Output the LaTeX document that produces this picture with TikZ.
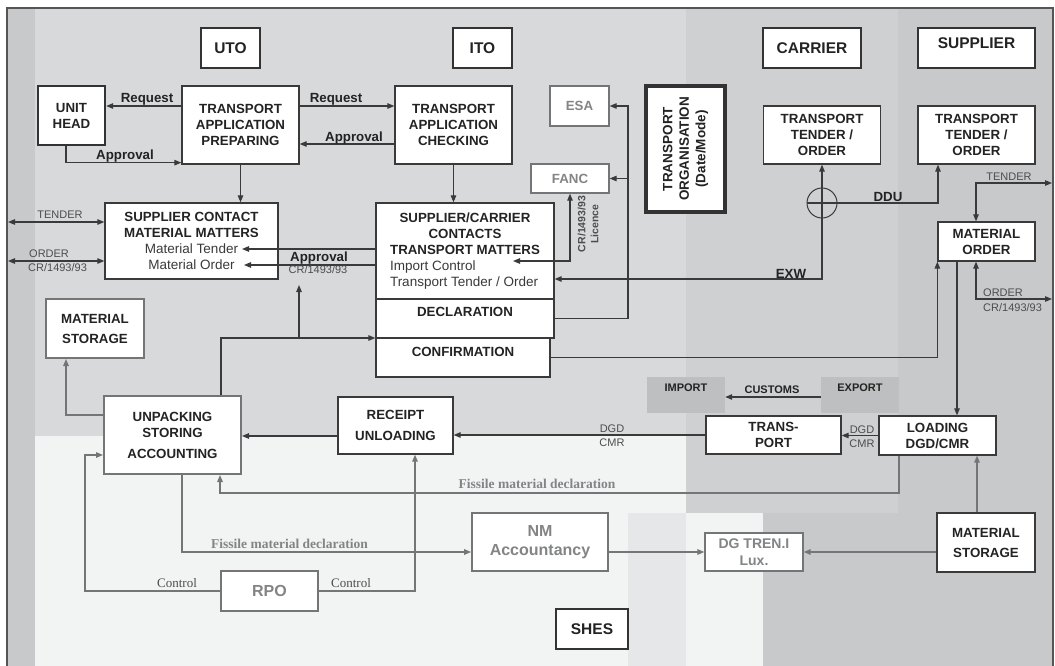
\documentclass[tikz,border=0pt]{standalone}
\usepackage{fontspec}
\setmainfont{Liberation Sans}
\newfontfamily\serifrm{Liberation Serif}
\usetikzlibrary{arrows.meta,calc}
\definecolor{lc}{HTML}{3A3A3A}
\definecolor{hc}{HTML}{333333}
\definecolor{tc}{HTML}{232323}
\definecolor{gl}{HTML}{747577}
\definecolor{gt}{HTML}{838486}
\definecolor{st}{HTML}{4D4D4D}
\definecolor{bgA}{HTML}{D8D9DA}
\definecolor{bgB}{HTML}{CFD0D1}
\definecolor{bgC}{HTML}{C8C9CA}
\definecolor{bgL}{HTML}{F2F3F3}
\definecolor{bgE}{HTML}{E6E7E8}
\definecolor{ib}{HTML}{BEBFC0}
\definecolor{fr}{HTML}{555555}
\begin{document}
\begin{tikzpicture}[x=1pt,y=-1pt,>={Triangle[length=7pt,width=5.5pt]},
 box/.style={draw=lc,line width=1.3pt,fill=white,text=tc,align=center,inner sep=0pt,font=\bfseries\fontsize{13.3}{16}\selectfont},
 gbox/.style={box,draw=gl,text=gt},
 hdr/.style={box,line width=2.6pt,draw=hc,font=\bfseries\fontsize{15.5}{18}\selectfont},
 arr/.style={draw=lc,line width=1.1pt,->},
 darr/.style={draw=lc,line width=1.1pt,<->},
 garr/.style={draw=gl,line width=1.4pt,->},
 lbl/.style={font=\bfseries\fontsize{13.3}{16}\selectfont,text=tc,inner sep=0pt,anchor=base},
 sml/.style={font=\fontsize{11}{13}\selectfont,text=st,inner sep=0pt,anchor=base},
 ser/.style={font=\serifrm\bfseries\fontsize{13.5}{15}\selectfont,text=gt,inner sep=0pt,anchor=base},
 ctl/.style={font=\serifrm\fontsize{13}{15}\selectfont,text=st,inner sep=0pt,anchor=base},
 shade/.style={fill=ib,minimum width=78pt,minimum height=36pt,inner sep=0pt,font=\bfseries\fontsize{11}{13}\selectfont,text=tc,text height=7.9pt,text depth=15pt}]
\clip (0,0) rectangle (1055,666);
% backgrounds
\fill[bgA] (7,8) rectangle (686,436);
\fill[bgB] (686,8) rectangle (898,513);
\fill[bgC] (898,8) rectangle (1053,666);
\fill[bgC] (763,513) rectangle (898,666);
\fill[bgL] (35,436) rectangle (686,666);
\fill[bgE] (628,513) rectangle (686,666);
\fill[bgL] (686,513) rectangle (763,666);
\fill[bgC] (7,8) rectangle (35,666);
\draw[draw=fr,line width=1.5pt] (7,8) rectangle (1053,700);

% headers
\node[hdr,minimum width=59pt,minimum height=40pt] (uto) at (230.5,48) {UTO};
\node[hdr,minimum width=59pt,minimum height=40pt] (ito) at (482.5,48) {ITO};
\node[hdr,minimum width=98pt,minimum height=40pt] (car) at (812,48) {CARRIER};
\node[hdr,minimum width=117pt,minimum height=40pt,text height=11pt,text depth=10pt] (sup) at (976.5,48) {SUPPLIER};
\node[hdr,minimum width=72pt,minimum height=40pt] (shes) at (592,629) {SHES};

% boxes
\node[box,line width=2.4pt,draw=hc,minimum width=67pt,minimum height=59pt] (uh) at (71.5,115.5) {UNIT\\HEAD};
\node[box,minimum width=117pt,minimum height=78pt] (tap) at (240.5,125) {TRANSPORT\\APPLICATION\\PREPARING};
\node[box,minimum width=117pt,minimum height=78pt] (tac) at (453.5,125) {TRANSPORT\\APPLICATION\\CHECKING};
\node[gbox,minimum width=59pt,minimum height=40pt] (esa) at (579.5,106) {ESA};
\node[gbox,minimum width=78pt,minimum height=29pt] (fanc) at (570,178.5) {FANC};
\node[box,line width=3.5pt,draw=hc,rotate=90,minimum width=126pt,minimum height=79pt,font=\bfseries\fontsize{13.5}{16.5}\selectfont] (tor) at (685.5,149) {TRANSPORT\\ORGANISATION\\(Date/Mode)};
\node[box,minimum width=117pt,minimum height=58pt] (ttc) at (822,135) {TRANSPORT\\TENDER /\\ORDER};
\node[box,minimum width=117pt,minimum height=58pt] (tts) at (976.5,135) {TRANSPORT\\TENDER /\\ORDER};
\node[draw=lc,line width=1pt,circle,minimum size=30pt,inner sep=0pt] (xr) at (822,203) {};
\node[box,minimum width=97pt,minimum height=39pt] (mo) at (986.5,241.5) {MATERIAL\\ORDER};
\node[box,minimum width=173pt,minimum height=76pt] (scm) at (191.5,241) {SUPPLIER CONTACT\\MATERIAL MATTERS\\{\mdseries\fontsize{13.5}{16}\selectfont\color{lc}Material Tender}\\{\mdseries\fontsize{13.5}{16}\selectfont\color{lc}Material Order}};
\node[box,minimum width=178pt,minimum height=96pt] (scc) at (465,251) {SUPPLIER/CARRIER\\CONTACTS\\TRANSPORT MATTERS\\\makebox[150pt][l]{\mdseries\fontsize{13.5}{16}\selectfont\color{lc}Import Control}\\\makebox[150pt][l]{\mdseries\fontsize{13.5}{16}\selectfont\color{lc}Transport Tender / Order}};
\node[box,minimum width=178pt,minimum height=39pt,text height=9.5pt,text depth=13pt] (dec) at (465,318.5) {DECLARATION};
\node[box,minimum width=174pt,minimum height=39pt,text height=9.5pt,text depth=11pt] (con) at (463,357.5) {CONFIRMATION};
\node[gbox,line width=2pt,text=tc,minimum width=98pt,minimum height=59pt] (msl) at (95,328.5) {MATERIAL\\[4pt]STORAGE};
\node[gbox,line width=2pt,text=tc,minimum width=137pt,minimum height=78pt] (usa) at (172.5,435) {UNPACKING\\STORING\\[5pt]ACCOUNTING};
\node[box,minimum width=115pt,minimum height=57pt] (ru) at (395.5,425.5) {RECEIPT\\[5pt]UNLOADING};
\node[box,minimum width=135pt,minimum height=38pt] (tp) at (773.5,435) {TRANS-\\PORT};
\node[box,minimum width=117pt,minimum height=39pt] (ld) at (937.5,435.5) {LOADING\\DGD/CMR};
\node[gbox,line width=1.8pt,minimum width=136pt,minimum height=58pt,font=\bfseries\fontsize{16}{19}\selectfont] (nm) at (540,542) {NM\\Accountancy};
\node[gbox,minimum width=98pt,minimum height=38pt,font=\bfseries\fontsize{14}{17}\selectfont] (dg) at (754,552) {DG TREN.I\\Lux.};
\node[box,minimum width=98pt,minimum height=59pt] (msr) at (986,542.5) {MATERIAL\\[4pt]STORAGE};
\node[gbox,minimum width=97pt,minimum height=40pt,font=\bfseries\fontsize{16}{19}\selectfont] (rpo) at (269.5,591) {RPO};
\node[shade] (imp) at (686,395) {IMPORT};
\node[shade] (exp) at (860,395) {EXPORT};

% coordinates
\coordinate (lt) at (8,222);
\coordinate (lo) at (8,261);
\coordinate (mt) at (242,249);
\coordinate (mq) at (244,265);
\coordinate (ub) at (299,338);
\coordinate (ap) at (299,285);
\coordinate (dv) at (628,183);
\coordinate (ic) at (513,261);
\coordinate (ex) at (822,279);
\coordinate (rt) at (1052,183);
\coordinate (ro) at (1052,299);
\coordinate (f1) at (537,493);
\coordinate (cl) at (85,591);

% dark connectors
\draw[arr] ([yshift=19pt]tap.west) -- ([yshift=19pt]tap.west -| uh.east);
\draw[arr] ([xshift=-5.5pt]uh.south) |- ([yshift=2pt]tap.south west);
\draw[arr] ([yshift=19pt]tap.east) -- ([yshift=19pt]tap.east -| tac.west);
\draw[arr] ([yshift=-19pt]tac.west) -- ([yshift=-19pt]tac.west -| tap.east);
\draw[arr] (tap.south) -- (tap.south |- scm.north);
\draw[arr] (tac.south) -- (tac.south |- scc.north);
\draw[darr] (lt) -- (lt -| scm.west);
\draw[darr] (lo) -- (lo -| scm.west);
\draw[arr] (mt -| scc.west) -- (mt);
\draw[arr] (mq -| scc.west) -- (mq);
\draw[arr] ([xshift=48.5pt]usa.north) |- ([yshift=19.5pt]con.west);
\draw[arr] (ub) -- (ap);
\draw[arr] (dec.east) -| (dv |- esa.east) -- (esa.east);
\draw[arr] (fanc.east -| dv) -- (fanc.east);
\draw[darr] (ic) -| (fanc.south);
\draw[darr] (ttc.south) -- (ex) -- (ex -| scc.east);
\draw[arr] (xr.west) -| ([xshift=-38.5pt]tts.south);
\draw[darr] (rt) -| ([xshift=-10.5pt]mo.north);
\draw[darr] (ro) -| ([xshift=-10.5pt]mo.south);
\draw[arr] ([xshift=-29.5pt]mo.south) -- ([xshift=-29.5pt]mo.south |- ld.north);
\draw[arr] (con.east) -| (mo.south west);
\draw[arr] (ld.west) -- (ld.west -| tp.east);
\draw[arr] (tp.west) -- (tp.west -| ru.east);
\draw[arr] ([yshift=-10.5pt]ru.west) -- ([yshift=-10.5pt]ru.west -| usa.east);
\draw[arr] ([yshift=-2pt]exp.west) -- ([yshift=-2pt]exp.west -| imp.east);

% gray connectors
\draw[garr] ([yshift=20pt]usa.west) -| ([xshift=-29pt]msl.south);
\draw[garr] ([xshift=-38.5pt]ld.south) |- (f1) -| ([xshift=47.5pt]usa.south);
\draw[garr] ([xshift=9.5pt]usa.south) |- ([yshift=-10pt]nm.west);
\draw[garr] ([yshift=-10pt]nm.east) -- ([yshift=-10pt]nm.east -| dg.west);
\draw[garr] (dg.east -| msr.west) -- (dg.east);
\draw[garr] ([xshift=-9pt]msr.north) -- ([xshift=-9pt]msr.north |- ld.south);
\draw[garr] (rpo.west) -- (cl) |- ([yshift=-20pt]usa.west);
\draw[garr] (rpo.east) -| ([xshift=19.5pt]ru.south);

% labels
\node[lbl] (l1) at (147,103) {Request};
\node[lbl] (l2) at (125,160) {Approval};
\node[lbl] (l3) at (336,103) {Request};
\node[lbl] (l4) at (354,142) {Approval};
\node[lbl] (l5) at (319,261) {Approval};
\node[sml] (l6) at (318,273) {CR/1493/93};
\node[sml] (l7) at (60,218.5) {TENDER};
\node[sml,anchor=base west] (l8) at (29,257) {ORDER};
\node[sml,anchor=base west] (l9) at (28,271) {CR/1493/93};
\node[font=\bfseries\fontsize{10.5}{13}\selectfont,text=st,rotate=90,align=center,inner sep=0pt] (lic) at (588,224) {CR/1493/93\\Licence};
\node[lbl] (l10) at (888,201) {DDU};
\node[lbl] (l11) at (791,278) {EXW};
\node[sml] (l12) at (1009,180) {TENDER};
\node[sml,anchor=base west] (l13) at (983,296) {ORDER};
\node[sml,anchor=base west] (l14) at (983,311) {CR/1493/93};
\node[sml] (l15) at (862,433) {DGD};
\node[sml] (l16) at (862,447) {CMR};
\node[sml] (l17) at (612,432) {DGD};
\node[sml] (l18) at (612,446) {CMR};
\node[sml,font=\bfseries\fontsize{11}{13}\selectfont,text=tc] (l19) at (772,393) {CUSTOMS};
\node[ser] (l20) at (537,488) {Fissile material declaration};
\node[ser] (l21) at (289.5,548) {Fissile material declaration};
\node[ctl] (l22) at (177,587) {Control};
\node[ctl] (l23) at (351,587) {Control};
\end{tikzpicture}
\end{document}
